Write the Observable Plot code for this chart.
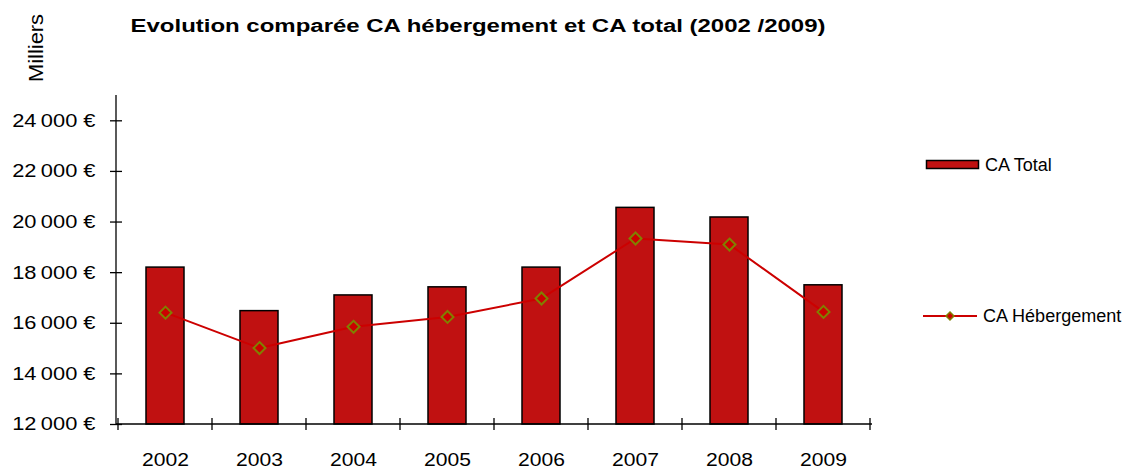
<!DOCTYPE html>
<html><head><meta charset="utf-8">
<script src="https://cdn.jsdelivr.net/npm/d3@7"></script>
<script src="https://cdn.jsdelivr.net/npm/@observablehq/plot@0.6"></script>
<style>
html,body{margin:0;padding:0;background:#fff}
svg{font-family:"Liberation Sans",Arial,sans-serif}
</style>
</head><body><div id="chart"></div>
<script>
// ---- data ----
const years = ["2002","2003","2004","2005","2006","2007","2008","2009"];
const caTotal = [18200, 16480, 17100, 17420, 18200, 20560, 20180, 17500];
const caHebergement = [16420, 15020, 15860, 16250, 16980, 19350, 19110, 16450];
const yTicks = [12000, 14000, 16000, 18000, 20000, 22000, 24000];
const yMax = 25000;
const seriesNames = ["CA Total", "CA Hébergement"];
const titleText = "Evolution comparée CA hébergement et CA total (2002 /2009)";
const unitText = "Milliers";

const barColor = "#C01111";
const lineColor = "#CC0000";
const markerColor = "#808000";

const data = years.map((year, i) => ({year, total: caTotal[i], heb: caHebergement[i]}));
const fmt = d => d3.format(",")(d).replace(/,/g, "\u2009") + " €";

const chart = Plot.plot({
  width: 1126, height: 470,
  marginLeft: 116, marginRight: 254, marginTop: 95, marginBottom: 46,
  style: {fontFamily: '"Liberation Sans", Arial, sans-serif', color: "#000", background: "#fff"},
  x: {domain: years, paddingInner: 0.6, paddingOuter: 0.3, label: null},
  y: {domain: [yTicks[0], yMax], label: null},
  marks: [
    Plot.barY(data, {x: "year", y1: yTicks[0], y2: "total", fill: barColor, stroke: "#000", strokeWidth: 1.5}),
    Plot.lineY(data, {x: "year", y: "heb", stroke: lineColor, strokeWidth: 2}),
    Plot.dot(data, {x: "year", y: "heb", symbol: "diamond2", r: 5.4, stroke: markerColor, strokeWidth: 2, fill: lineColor}),
    Plot.axisY(yTicks, {tickSize: 12, dx: 6, fill: "none", stroke: "#000", strokeWidth: 1.3, label: null}),
    Plot.axisY(yTicks, {tickSize: 0, tickPadding: 21, tickFormat: fmt, fontSize: 18.5, label: null}),
    Plot.axisX({tickSize: 0, tickPadding: 29, fontSize: 18, label: null})
  ]
});
document.getElementById("chart").appendChild(chart);

const svg = d3.select(chart);
const xs = chart.scale("x"), ys = chart.scale("y");
const x0 = xs.range[0], x1 = xs.range[1];
const yb = ys.apply(yTicks[0]), yt = ys.apply(yMax);
const g = svg.append("g").attr("stroke", "#000").attr("stroke-width", 1.3);
g.append("line").attr("x1", x0).attr("x2", x0).attr("y1", yt).attr("y2", yb);
g.append("line").attr("x1", x0).attr("x2", x1).attr("y1", yb).attr("y2", yb);
const gap = (xs.step - xs.bandwidth) / 2;
const bounds = years.map(y => xs.apply(y) - gap).concat([xs.apply(years[years.length-1]) + xs.bandwidth + gap]);
bounds.forEach(b => g.append("line").attr("x1", b).attr("x2", b).attr("y1", yb - 6).attr("y2", yb + 6));

// stretch labels like the reference rendering
function stretch(sel, k) {
  sel.each(function() {
    const L = this.getComputedTextLength();
    this.setAttribute("textLength", (L * k).toFixed(1));
    this.setAttribute("lengthAdjust", "spacingAndGlyphs");
  });
}
stretch(svg.selectAll('g[aria-label="y-axis tick label"] text'), 1.18);
stretch(svg.selectAll('g[aria-label="x-axis tick label"] text'), 1.17);

// title
svg.append("text").attr("x", (x0 + x1) / 2 - 16).attr("y", 32).attr("text-anchor", "middle")
  .attr("font-weight", "bold").attr("font-size", 18).attr("fill", "#000")
  .attr("textLength", 695).attr("lengthAdjust", "spacingAndGlyphs").text(titleText);
// unit label
const unit = svg.append("text").attr("transform", `translate(43,48) rotate(-90)`).attr("text-anchor", "middle")
  .attr("font-size", 19.5).attr("fill", "#000").text(unitText);
stretch(unit, 1.12);

// legend
const lg = svg.append("g").attr("font-size", 17.5).attr("fill", "#000").attr("text-anchor", "start");
lg.append("rect").attr("x", 926.5).attr("y", 160.5).attr("width", 52).attr("height", 8).attr("fill", barColor).attr("stroke", "#000").attr("stroke-width", 1.5);
const t1 = lg.append("text").attr("x", 985).attr("y", 164.5).attr("dy", "0.35em").text(seriesNames[0]);
lg.append("line").attr("x1", 923).attr("x2", 977).attr("y1", 316).attr("y2", 316).attr("stroke", lineColor).attr("stroke-width", 2);
lg.append("path").attr("d", d3.symbol(d3.symbolDiamond2, 40)()).attr("transform", "translate(950,316)").attr("fill", lineColor).attr("stroke", markerColor).attr("stroke-width", 1.5);
const t2 = lg.append("text").attr("x", 983).attr("y", 316).attr("dy", "0.35em").text(seriesNames[1]);
stretch(t1, 1.03); stretch(t2, 1.03);
</script>
</body></html>
